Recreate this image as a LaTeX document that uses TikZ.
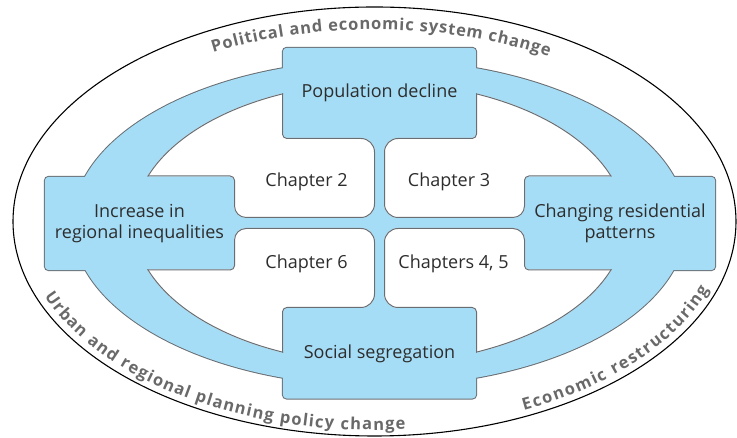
\documentclass[tikz,border=0pt]{standalone}
\usepackage{fontspec}
\setmainfont{Open Sans}
\usetikzlibrary{positioning,decorations.text}
\pgfdeclarelayer{bg}
\pgfsetlayers{bg,main}
\definecolor{skyfill}{RGB}{166,221,246}
\definecolor{rim}{RGB}{105,110,115}
\definecolor{ink}{RGB}{45,45,45}
\definecolor{arcink}{RGB}{105,105,105}
\newcommand\bandfont{\fontsize{16.5}{18}\selectfont\bfseries}
\newcommand\quarterpath{(-400,300) -- (-96.5,300) [rounded corners=4pt] -- (-96.5,85) [rounded corners=14pt] -- (-4.5,85) -- (-4.5,5) [rounded corners=12pt] -- (-145.5,5) [rounded corners=4pt] -- (-145.5,46.5) [sharp corners] -- (-400,46.5) -- cycle}

\begin{document}
\begin{tikzpicture}[x=1pt,y=1pt,theme/.style={rectangle,inner sep=0pt,align=center,text=ink,font=\fontsize{18}{21}\selectfont},chap/.style={text=ink,font=\fontsize{18}{21}\selectfont},shell/.style={draw=rim,line width=2pt},hole/.style={draw=rim,line width=2pt},bandtext/.style={decorate,decoration={text along path,text align={fit to path},text color=arcink,text={|\bandfont|#1}}}]
		\useasboundingbox (0,0) rectangle (737,438);
		\coordinate														(hub)		at (379.5,215);

		\node[theme,minimum width=193pt,minimum height=90pt]					(decline)	at (379.5,345)		{Population decline};
		\node[theme,minimum width=193pt,minimum height=90pt,below=170pt of decline]	(segreg)	{Social segregation};
		\node[theme,minimum width=189pt,minimum height=93pt]					(inequal)	at (139.5,214.5)	{Increase in\\regional inequalities};
		\node[theme,minimum width=190pt,minimum height=93pt]					(resid)		at (620,214.5)		{Changing residential\\patterns};

		\node[chap]		(ch2)	at (306.5,256)	{Chapter 2};
		\node[chap]		(ch3)	at (449,256)	{Chapter 3};
		\node[chap]		(ch6)	at (306.5,174)	{Chapter 6};
		\node[chap]		(ch45)	at (453.5,174)	{Chapters 4, 5};

		\draw[line width=1.1pt] (374.5,216.5) ellipse [x radius=361.5,y radius=214.5];

		\path[bandtext=Political and economic system change] (374.5,216.5) ++(118.5:338 and 192) arc[start angle=118.5,end angle=59,x radius=338,y radius=192];
		\path[bandtext=Urban and regional planning policy change] (374.5,216.5) ++(201:353.5 and 208.5) arc[start angle=201,end angle=275,x radius=353.5,y radius=208.5];
		\path[bandtext=Economic restructuring] (374.5,216.5) ++(295:353.5 and 208.5) arc[start angle=295,end angle=341,x radius=353.5,y radius=208.5];

		\begin{pgfonlayer}{bg}
			% blue band with its rim
			\draw[shell] (hub) ellipse [x radius=307,y radius=163];
			\foreach \n in {decline,segreg,inequal,resid}
				\draw[shell,rounded corners=4pt] (\n.south west) rectangle (\n.north east);
			\fill[skyfill] (hub) ellipse [x radius=307,y radius=163];
			\foreach \n in {decline,segreg,inequal,resid}
				\fill[skyfill,rounded corners=4pt] (\n.south west) rectangle (\n.north east);

			% white quarters
			\foreach \sx/\sy in {1/1,-1/1,1/-1,-1/-1}{
				\begin{scope}[shift={(hub)},xscale=\sx,yscale=\sy]
					\clip (0,0) ellipse [x radius=246,y radius=141];
					\clip \quarterpath;
					\fill[white] (-400,-10) rectangle (10,300);
					\draw[hole] (0,0) ellipse [x radius=246,y radius=141];
					\draw[hole] \quarterpath;
				\end{scope}
			}
		\end{pgfonlayer}
	\end{tikzpicture}
\end{document}
